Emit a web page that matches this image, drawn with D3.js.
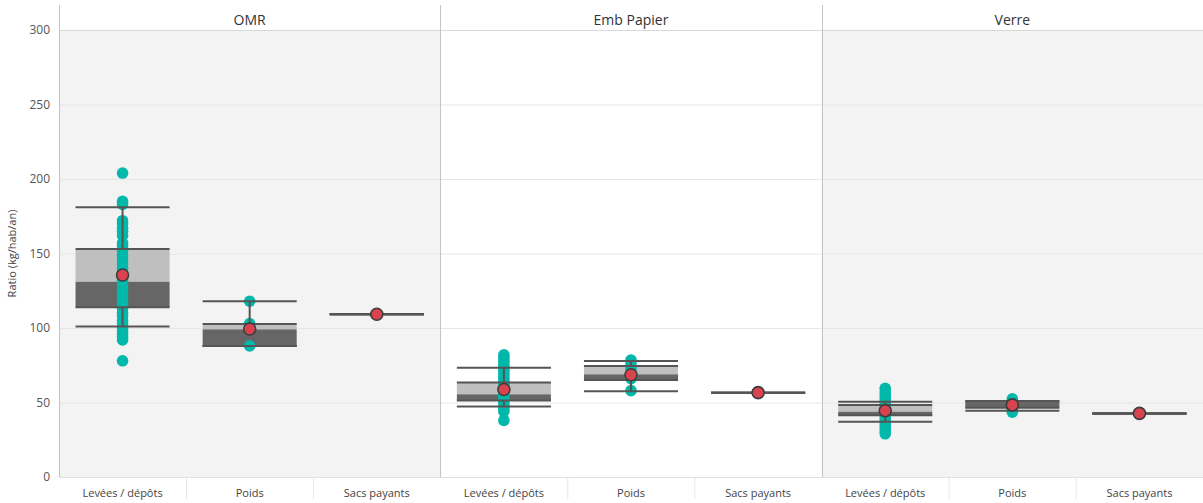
<!DOCTYPE html>
<html>
<head>
<meta charset="utf-8">
<script src="https://cdn.jsdelivr.net/npm/d3@7"></script>
<style>
  html, body { margin: 0; padding: 0; background: #fff; }
  svg { display: block; font-family: "Open Sans", "Noto Sans", sans-serif; }
</style>
</head>
<body>
<svg id="chart" width="1203" height="503"></svg>
<script>
// Waste streams (facets) and measurement types (categories within a facet)
const panels = ["OMR", "Emb Papier", "Verre"];
const categories = ["Levées / dépôts", "Poids", "Sacs payants"];
const yTicks = [0, 50, 100, 150, 200, 250, 300];

// Box statistics per panel, in category order
const whiskerHigh = [[181, 118, 109.2], [73.4, 77.9, 56.6], [50.5, 51.0, 42.7]];
const q3 =          [[153, 102.7, 109.2], [63.5, 74.5, 56.6], [48.3, 50.6, 42.7]];
const median =      [[131, 99.1, 109.2], [55.5, 68.9, 56.6], [43.8, 50.2, 42.7]];
const q1 =          [[114, 87.9, 109.2], [51.3, 65.1, 56.6], [41.4, 46.5, 42.7]];
const whiskerLow =  [[101, 87.9, 109.2], [47.3, 57.6, 56.6], [37.1, 44.4, 42.7]];
const means =       [[135.6, 99.3, 109.2], [58.7, 68.6, 56.6], [44.5, 48.4, 42.7]];

// Individual observations (kg/hab/an)
const omrLevees = [204, 185, 183, 172, 170, 167, 165, 162, 157, 155, 152, 149, 146, 143, 140, 137, 135,
  132, 129, 126, 124, 121, 118, 116, 113, 110, 108, 105, 103, 100, 98, 96, 94, 92, 78];
const omrPoids = [118, 103, 100, 88];
const omrSacs = [109.2];
const papLevees = [82, 80, 78, 76, 74, 72, 70, 68, 66, 64, 62, 60, 58, 56, 54, 52, 50, 48, 46, 44, 38];
const papPoids = [78.5, 76, 73, 70, 66, 58];
const papSacs = [56.6];
const verLevees = [59.5, 57, 55, 53, 51, 49, 47, 45, 43, 41, 39, 37, 35, 33, 31, 29];
const verPoids = [52.5, 51, 49.5, 48, 46.5, 45, 43.5];
const verSacs = [42.5];
const observations = [
  [omrLevees, omrPoids, omrSacs],
  [papLevees, papPoids, papSacs],
  [verLevees, verPoids, verSacs]
];

const svg = d3.select("#chart");
const plotLeft = 59, plotRight = 1203, plotTop = 30, plotBottom = 477, headerTop = 5;

const x = d3.scaleBand().domain(panels).range([plotLeft, plotRight]);
const xc = d3.scaleBand().domain(categories).range([0, x.bandwidth()]);
const y = d3.scaleLinear().domain([0, 300]).range([plotBottom, plotTop]);
const boxW = xc.bandwidth() * 0.74;

const textColor = "#555";
const lineColor = "#555";
const teal = "#01b8aa";

// Panel backgrounds (alternating shade)
panels.forEach((p, i) => {
  svg.append("rect")
    .attr("x", x(p)).attr("y", plotTop)
    .attr("width", x.bandwidth()).attr("height", plotBottom - plotTop)
    .attr("fill", i % 2 === 0 ? "#f3f3f3" : "#ffffff");
});

// Horizontal gridlines
const yAxis = d3.axisLeft(y).tickValues(yTicks).tickSize(0).tickPadding(9);
svg.append("g").selectAll("line").data(yTicks).join("line")
  .attr("x1", plotLeft).attr("x2", plotRight)
  .attr("y1", d => y(d) + 0.5).attr("y2", d => y(d) + 0.5)
  .attr("stroke", d => d === 300 ? "#d8d8d8" : "#e6e6e6").attr("stroke-width", 1);

// Y axis labels
const gy = svg.append("g").attr("transform", `translate(${plotLeft},0)`).call(yAxis);
gy.select(".domain").remove();
gy.selectAll("text").attr("fill", textColor).attr("font-size", 12)
  .attr("font-family", "\"Open Sans\", \"Noto Sans\", sans-serif");

svg.append("text")
  .attr("transform", `translate(16,${(plotTop + plotBottom) / 2}) rotate(-90)`)
  .attr("text-anchor", "middle")
  .attr("fill", "#444").attr("font-size", 11)
  .text("Ratio (kg/hab/an)");

// Panel separators and titles
[plotLeft, ...panels.slice(1).map(p => x(p))].forEach(px => {
  svg.append("line")
    .attr("x1", Math.round(px) + 0.5).attr("x2", Math.round(px) + 0.5)
    .attr("y1", headerTop).attr("y2", plotBottom)
    .attr("stroke", "#c4c4c4").attr("stroke-width", 1);
});
svg.append("g").selectAll("text").data(panels).join("text")
  .attr("x", d => x(d) + x.bandwidth() / 2).attr("y", 25)
  .attr("text-anchor", "middle").attr("font-size", 14).attr("fill", "#333")
  .text(d => d);

// Category axis under each panel
panels.forEach(p => {
  const g = svg.append("g").attr("transform", `translate(${x(p)},${plotBottom})`);
  const ax = d3.axisBottom(xc).tickSize(0).tickPadding(12);
  g.call(ax);
  g.select(".domain").attr("stroke", "#e0e0e0");
  g.selectAll("text").attr("fill", "#444").attr("font-size", 11)
    .attr("font-family", "\"Open Sans\", \"Noto Sans\", sans-serif");
  categories.slice(1).forEach(c => {
    g.append("line")
      .attr("x1", Math.round(xc(c)) + 0.5).attr("x2", Math.round(xc(c)) + 0.5)
      .attr("y1", 0).attr("y2", 22)
      .attr("stroke", "#e6e6e6");
  });
});

// Boxes, observations, whiskers and means
panels.forEach((p, pi) => {
  categories.forEach((c, ci) => {
    const cx = x(p) + xc(c) + xc.bandwidth() / 2;
    const g = svg.append("g");
    const hi = whiskerHigh[pi][ci], lo = whiskerLow[pi][ci];
    const b3 = q3[pi][ci], b2 = median[pi][ci], b1 = q1[pi][ci];

    // upper half of the box (Q3 to median) and lower half (median to Q1)
    g.append("rect").attr("x", cx - boxW / 2).attr("width", boxW)
      .attr("y", y(b3)).attr("height", Math.max(0, y(b2) - y(b3)))
      .attr("fill", "#bfbfbf");
    g.append("rect").attr("x", cx - boxW / 2).attr("width", boxW)
      .attr("y", y(b2)).attr("height", Math.max(0, y(b1) - y(b2)))
      .attr("fill", "#666666");

    // observations
    g.selectAll("circle.obs").data(observations[pi][ci]).join("circle")
      .attr("class", "obs")
      .attr("cx", cx).attr("cy", d => y(d)).attr("r", 5.8)
      .attr("fill", teal);

    // whisker stems
    g.append("line").attr("x1", cx).attr("x2", cx)
      .attr("y1", y(hi)).attr("y2", y(b3))
      .attr("stroke", lineColor).attr("stroke-width", 2);
    g.append("line").attr("x1", cx).attr("x2", cx)
      .attr("y1", y(b1)).attr("y2", y(lo))
      .attr("stroke", lineColor).attr("stroke-width", 2);

    // caps and box edges
    [hi, b3, b1, lo].forEach(v => {
      g.append("line")
        .attr("x1", cx - boxW / 2).attr("x2", cx + boxW / 2)
        .attr("y1", y(v)).attr("y2", y(v))
        .attr("stroke", lineColor).attr("stroke-width", 2);
    });

    // mean marker
    g.append("circle")
      .attr("cx", cx).attr("cy", y(means[pi][ci])).attr("r", 6)
      .attr("fill", "#d9434f").attr("stroke", "#3d3d3d").attr("stroke-width", 1.6);
  });
});
</script>
</body>
</html>
